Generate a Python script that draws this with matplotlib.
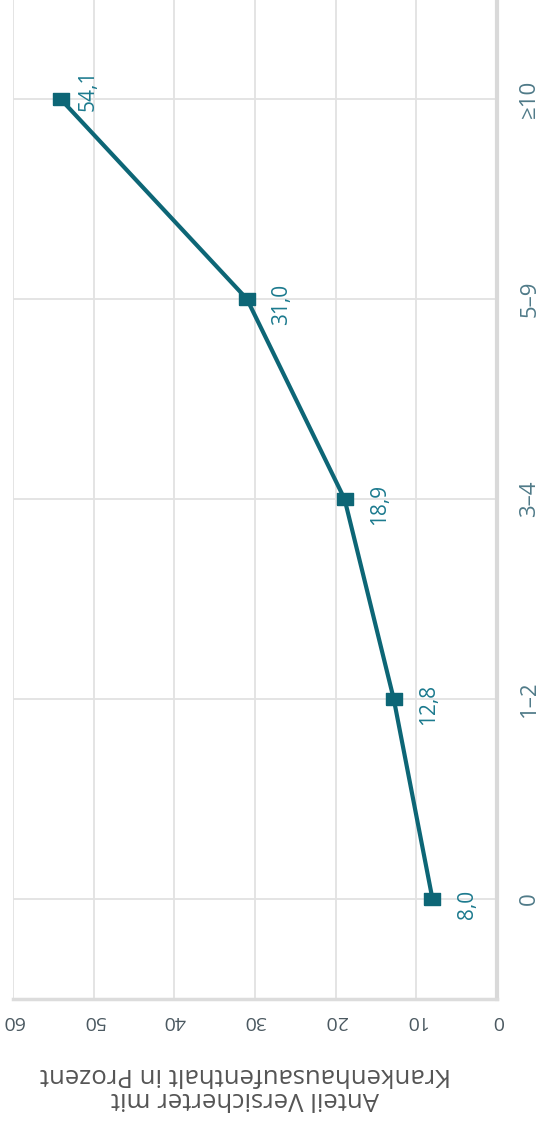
import matplotlib
matplotlib.use("Agg")
import matplotlib.pyplot as plt

# Anteil Versicherter mit Krankenhausaufenthalt (%) nach Anzahl ...
categories = ["0", "1\u20132", "3\u20134", "5\u20139", "\u226510"]
values = [8.0, 12.8, 18.9, 31.0, 54.1]
value_labels = ["8,0", "12,8", "18,9", "31,0", "54,1"]
value_ticks = [0, 10, 20, 30, 40, 50, 60]

teal = "#0d6676"
plt.rcParams['font.family'] = ['Open Sans', 'DejaVu Sans']

fig = plt.figure(figsize=(5.41, 11.22), dpi=100)
ax = fig.add_axes([0.024, 0.1096, 0.8947, 0.8904])

pos = list(range(len(categories)))
rect = [(-4, -3), (4, -3), (4, 3), (-4, 3), (-4, -3)]
ax.plot(values, pos, color=teal, lw=3, marker=rect, markersize=12, zorder=3)

for i, (v, lab) in enumerate(zip(values, value_labels)):
    dx, dy = 25, -4
    if i == len(values) - 1:
        dx, dy = 20, 6
    ax.annotate(lab, (v, i), xytext=(dx, dy), textcoords="offset points",
                rotation=90, ha="center", va="center", fontsize=15, color="#1c7a8e")

ax.set_xlim(60, 0)
ax.set_ylim(-0.5, 4.495)
ax.set_xticks(value_ticks)
ax.set_xticklabels([str(t) for t in value_ticks], rotation=180, fontsize=14, color="#4a5860")
ax.set_yticks(pos)
ax.set_yticklabels(categories, rotation=90, va="center", fontsize=16, color="#4f7a88")
ax.yaxis.tick_right()
ax.tick_params(axis="both", length=0)
ax.tick_params(axis="x", pad=9)
ax.tick_params(axis="y", pad=16)

ax.grid(True, color="#e2e2e2", lw=1.3)
ax.set_axisbelow(True)
for s in ["top", "left"]:
    ax.spines[s].set_visible(False)
ax.spines["right"].set_color("#d9d9d9")
ax.spines["right"].set_linewidth(3)
ax.spines["bottom"].set_color("#dcdcdc")
ax.spines["bottom"].set_linewidth(2.5)

ax.set_xlabel("Anteil Versicherter mit\nKrankenhausaufenthalt in Prozent",
              rotation=180, fontsize=18.5, color="#555555", linespacing=0.95)
ax.xaxis.set_label_coords(0.48, -0.063)

fig.savefig("out.png", dpi=100)
